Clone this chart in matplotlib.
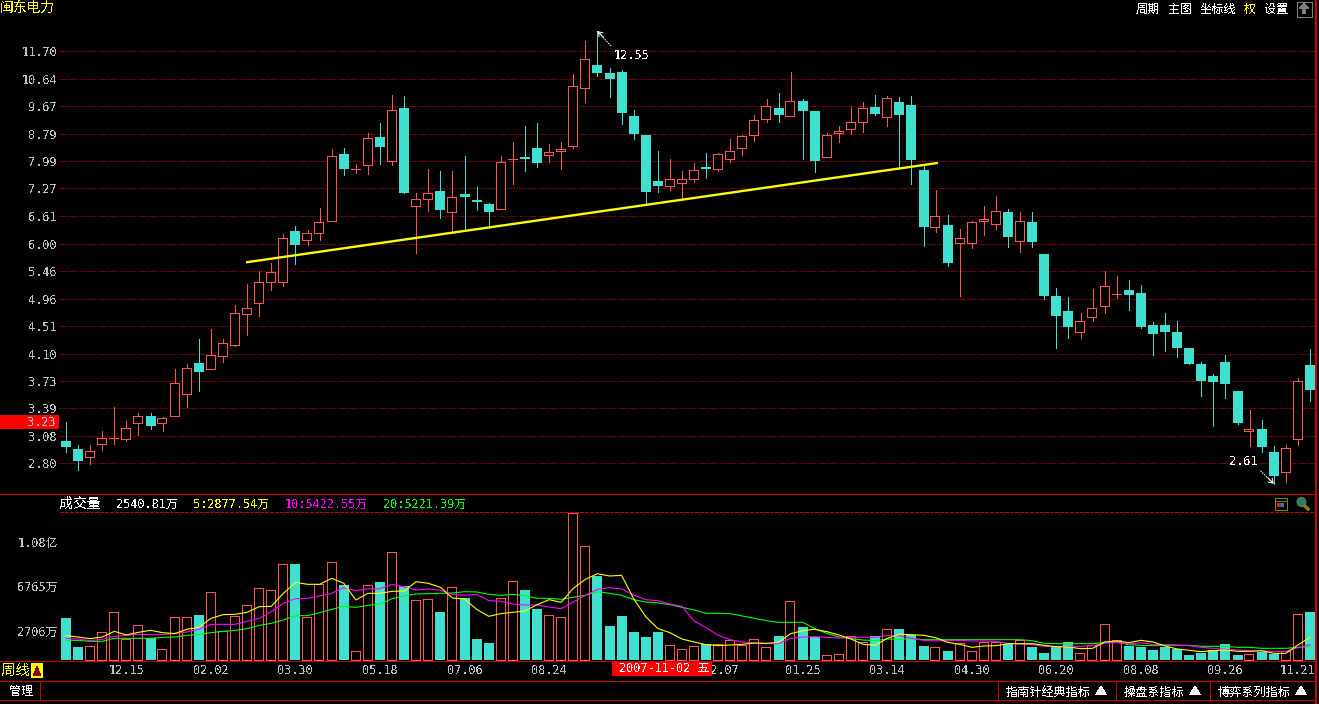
import matplotlib
matplotlib.use('Agg')
import matplotlib.pyplot as plt
from matplotlib.patches import Rectangle, Circle, Polygon
from matplotlib.ticker import NullLocator
from matplotlib.transforms import ScaledTranslation

plt.rcParams['font.family'] = ['DejaVu Sans Mono', 'Noto Sans CJK SC']
plt.rcParams['text.antialiased'] = False

W, H = 1319, 704

##candle colours: r = rising, c = falling
updown = ("ccrrrrrcrr" "rcrrrrrrrc" "rrrcrrcrcr" "rcrcccrrcc" "rrrrcccccc"
          "rrrcrrrrrc" "rccrrrrcrc" "ccrcrrrrcr" "ccccrrrrcc" "ccccccccrc" "crrc")

highs = [3.23,2.99,2.98,3.13,3.41,3.24,3.33,3.34,3.29,3.88,
         3.95,4.31,4.47,4.31,4.85,5.22,5.46,5.61,6.21,6.39,
         6.30,6.80,8.34,8.37,7.91,8.81,9.13,10.06,10.02,7.16,
         7.78,7.73,7.73,8.14,7.31,6.91,8.14,8.54,9.03,9.13,
         8.48,8.54,10.82,12.13,12.55,11.05,10.97,9.55,8.75,8.28,
         8.06,7.73,7.94,8.22,8.22,8.63,8.75,9.38,9.92,10.13,
         10.89,9.92,9.52,8.81,9.03,9.65,9.82,10.06,10.02,9.99,
         10.02,7.86,7.23,6.63,6.32,6.50,6.85,7.08,6.77,6.70,
         6.70,5.79,5.15,4.99,4.72,5.13,5.46,5.37,5.29,5.20,
         4.58,4.72,4.59,4.18,3.98,3.82,4.08,3.60,3.37,3.26,
         2.97,2.98,3.77,4.17]
body_tops = [3.03,2.94,2.92,3.06,3.06,3.17,3.30,3.30,3.28,3.70,
             3.90,3.97,4.08,4.25,4.72,4.81,5.25,5.44,6.12,6.27,
             6.22,6.47,8.13,8.20,7.77,8.66,8.70,9.54,9.61,7.01,
             7.15,7.21,7.05,7.13,6.99,6.89,7.96,8.05,8.11,8.37,
             8.24,8.34,10.36,11.38,11.16,10.86,10.89,9.35,8.75,7.46,
             7.51,7.51,7.75,7.83,8.19,8.27,8.72,9.21,9.67,9.61,
             9.84,9.85,9.52,8.74,8.87,9.15,9.60,9.65,9.94,9.82,
             9.71,7.75,6.60,6.41,6.12,6.47,6.53,6.72,6.70,6.49,
             6.47,5.79,5.01,4.75,4.59,4.81,5.18,5.04,5.11,5.06,
             4.53,4.53,4.42,4.18,3.96,3.79,3.98,3.60,3.16,3.16,
             2.91,2.95,3.73,3.94]
body_bots = [2.96,2.82,2.86,3.00,3.06,3.05,3.22,3.19,3.22,3.30,
             3.56,3.85,3.88,4.07,4.23,4.70,4.88,5.26,5.26,5.97,
             6.09,6.24,6.49,7.78,7.77,7.88,8.40,7.99,7.16,6.85,
             7.02,6.75,6.69,7.06,6.94,6.70,6.76,8.05,8.06,7.94,
             8.17,8.28,8.43,10.31,10.86,10.63,9.45,8.78,7.18,7.33,
             7.34,7.40,7.52,7.78,7.79,8.06,8.38,8.76,9.26,9.38,
             9.36,9.52,8.00,8.12,8.80,8.95,9.17,9.42,9.33,9.38,
             8.03,6.36,6.35,5.61,6.01,6.02,6.49,6.42,6.14,6.05,
             6.04,5.01,4.67,4.50,4.42,4.66,4.83,5.04,5.02,4.50,
             4.39,4.42,4.18,3.96,3.73,3.72,3.69,3.22,3.13,2.96,
             2.68,2.72,3.05,3.61]
lows = [2.91,2.74,2.79,2.93,3.00,3.03,3.09,3.16,3.13,3.30,
        3.41,3.60,3.88,3.98,4.21,4.37,4.67,5.11,5.18,5.59,
        5.97,6.07,6.49,7.62,7.67,7.65,7.91,7.89,7.16,5.81,
        6.73,6.56,6.27,6.32,6.75,6.34,6.76,7.38,7.73,7.83,
        7.97,7.78,8.37,9.82,10.74,9.99,9.09,8.63,6.89,7.18,
        7.23,6.99,7.44,7.54,7.73,7.97,8.17,8.57,9.16,9.16,
        9.36,8.06,7.70,8.12,8.54,8.78,8.85,9.38,9.04,7.78,
        7.38,5.96,6.25,5.56,5.00,5.92,6.19,6.32,5.94,5.83,
        5.94,4.96,4.18,4.33,4.33,4.59,4.72,4.97,4.77,4.48,
        4.08,4.14,4.05,3.96,3.54,3.19,3.51,3.21,2.97,2.91,
        2.61,2.63,2.98,3.48]

##volume, unit is 万
volume = [3839,1188,1280,2529,4357,1889,3169,1981,975,3900,
          3900,4113,6185,2620,3992,4997,6551,6368,8745,8775,
          3900,6917,8928,6856,792,6825,7130,9842,6764,5454,
          5546,4388,6642,5667,1920,1554,5637,7191,6399,4662,
          4083,3900,13407,10390,7678,3108,4022,2559,2102,2559,
          1341,975,1249,1463,1432,1798,1371,1889,1158,2194,
          5363,3017,2102,427,518,2163,1615,2194,2803,2834,
          2285,1280,1158,823,1524,792,1676,1676,1463,1828,
          1188,640,1188,1645,609,1371,3260,1798,1280,1188,
          914,1188,1006,457,640,914,1463,457,518,731,
          548,853,4174,4388]
ma5 = [2224,2102,1950,2102,2620,2285,2529,2712,2499,2407,
       2803,2986,3809,4144,4174,4357,4875,4906,6094,7100,
       6917,6917,7465,7008,5485,6094,6094,6277,6307,7160,
       7008,6642,5667,5576,4631,3992,4235,4357,4479,5058,
       5515,5271,6551,7374,7892,7678,7739,5606,3961,2878,
       2499,1920,1645,1402,1310,1371,1432,1554,1524,1615,
       2407,2681,2803,2590,2285,1920,1432,1341,1981,2346,
       2316,2255,2041,1615,1432,1158,1280,1310,1493,1493,
       1493,1341,1219,1188,1036,1066,1645,1737,1584,1798,
       1645,1280,1006,884,762,853,914,792,792,853,
       609,609,1371,2072]
ma10 = [1981,1920,1767,1889,2163,2255,2346,2316,2316,2438,
        2559,2803,3260,3260,3260,3535,3809,4418,5180,5606,
        5637,5850,6094,6612,6338,6490,6521,6917,6673,6399,
        6490,6368,6003,5911,6003,5424,5363,5119,5028,5028,
        4845,4692,5302,5911,6460,6612,6490,5942,5515,5423,
        5119,4906,3565,2956,2255,1859,1645,1554,1493,1493,
        1981,2102,2133,2072,2011,2072,2072,2072,2224,2224,
        1981,1798,1737,1767,1798,1737,1737,1706,1524,1463,
        1402,1249,1219,1249,1249,1310,1554,1584,1463,1584,
        1402,1402,1371,1310,1158,1066,975,914,853,823,
        792,792,1127,1402]
ma20 = [1798,1798,1706,1706,1981,1981,1981,1981,2072,2102,
        2255,2346,2499,2620,2712,2864,3169,3352,3656,4053,
        4053,4327,4631,4906,4814,4997,5119,5606,5850,6033,
        6064,6094,6124,6246,6216,6003,5911,6003,5881,5637,
        5637,5546,5728,5911,6246,6094,5911,5515,5302,5221,
        5058,4814,4571,4266,4266,4235,4022,3809,3595,3443,
        3443,3443,2864,2438,2102,1950,1828,1767,1920,1889,
        1950,1859,1859,1859,1859,1859,1859,1859,1859,1859,
        1767,1524,1493,1493,1493,1493,1615,1645,1402,1341,
        1310,1341,1341,1341,1249,1249,1249,1158,1158,1066,
        1066,1066,1158,1219]

price_ticks = [2.80,3.08,3.39,3.73,4.10,4.51,4.96,5.46,6.00,6.61,7.27,7.99,8.79,9.67,10.64,11.70]
price_labels = ['%.2f' % p for p in price_ticks]
vol_ticks = [2706,6765,10800]
vol_labels = ['2706万','6765万','1.08亿']
date_idx = [5,12,19,26,33,40,54,61,68,75,82,89,96,103]
date_labels = ['12.15','02.02','03.30','05.18','07.06','08.24','12.07','01.25',
               '03.14','04.30','06.20','08.08','09.26','11.21']
##yellow trend line (candle index, price)
trend_x = [15,72.1]
trend_y = [5.63,7.94]

RED = '#ff5555'
CYAN = '#40e0d0'
FRAME = '#d00000'
GRID = '#700000'
TXT = '#c0c0c0'
PX = 0.72  #one pixel in points at dpi 100

fig = plt.figure(figsize=(W/100, H/100), dpi=100, facecolor='black')

def px_axes(left, top, right, bottom):
    return fig.add_axes([left/W, 1-bottom/H, (right-left)/W, (bottom-top)/H])

##the axes start at pixel 59, candles start at pixel 66 with a 12.08 pixel step
LEFT, RIGHT, STEP, FIRST = 59, 1316, 12.078, 66
xlo, xhi = (LEFT-FIRST)/STEP, (RIGHT-FIRST)/STEP
n = len(highs)
xs = list(range(n))
up = [c == 'r' for c in updown]
hollow_shift = 0.7/STEP  #hollow boxes snap a pixel to the right otherwise

##price panel
ax = px_axes(LEFT, 20, RIGHT, 490)
ax.set_facecolor('none')
ax.set_yscale('log')
ax.set_xlim(xlo, xhi)
ax.set_ylim(2.5536, 13.045)
ax.yaxis.set_major_locator(plt.FixedLocator(price_ticks))
ax.yaxis.set_minor_locator(NullLocator())
ax.set_yticklabels(price_labels)
ax.set_xticks([])
ax.tick_params(axis='y', length=0, pad=1.5, labelsize=8.6, labelcolor=TXT)
ax.grid(True, axis='y', color=GRID, lw=PX, ls=(0, (6, 2, 1, 2)), antialiased=False)
ax.set_axisbelow(True)
for s in ax.spines.values():
    s.set_visible(False)

for i in xs:
    col = RED if up[i] else CYAN
    ax.vlines(i, lows[i], highs[i], color=col, lw=PX, antialiased=False, zorder=2)
    if up[i]:
        ax.bar(i-hollow_shift, body_tops[i]-body_bots[i], bottom=body_bots[i], width=9/STEP,
               facecolor='black', edgecolor=col, lw=PX, antialiased=False, zorder=3)
    else:
        ax.bar(i, body_tops[i]-body_bots[i], bottom=body_bots[i], width=10/STEP,
               facecolor=col, edgecolor='none', antialiased=False, zorder=3)
ax.plot(trend_x, trend_y, color='#ffff00', lw=1.7, zorder=5)

##annotation arrows: a dotted shaft and a short solid head
ax.annotate('12.55', xy=(44, 12.55), xytext=(16, -24), textcoords='offset pixels',
            color='white', fontsize=8.6, va='center', ha='left', zorder=6,
            arrowprops=dict(arrowstyle='-', color='white', lw=PX, ls=':',
                            shrinkA=0, shrinkB=0, relpos=(0, 1)))
ax.annotate('', xy=(44, 12.55), xytext=(6, -6), textcoords='offset pixels', zorder=6,
            arrowprops=dict(arrowstyle='->,head_length=0.3,head_width=0.2', color='white',
                            lw=PX, shrinkA=0, shrinkB=0))
ax.annotate('2.61', xy=(100, 2.61), xytext=(-16, 22), textcoords='offset pixels',
            color='white', fontsize=8.6, va='center', ha='right', zorder=6,
            arrowprops=dict(arrowstyle='-', color='white', lw=PX, ls=':',
                            shrinkA=0, shrinkB=0, relpos=(1, 0)))
ax.annotate('', xy=(100, 2.61), xytext=(-6, 6), textcoords='offset pixels', zorder=6,
            arrowprops=dict(arrowstyle='->,head_length=0.3,head_width=0.2', color='white',
                            lw=PX, shrinkA=0, shrinkB=0))

##volume panel
vx = px_axes(LEFT, 513, RIGHT, 660)
vx.set_facecolor('none')
vx.set_xlim(xlo, xhi)
vx.set_ylim(0, 13436)
vx.set_yticks(vol_ticks)
vx.set_yticklabels(vol_labels)
vx.set_xticks(date_idx)
vx.set_xticklabels(date_labels)
vx.tick_params(axis='y', length=0, pad=1, labelsize=8.6, labelcolor=TXT)
vx.tick_params(axis='x', length=0, pad=3.2, labelsize=8.6, labelcolor=TXT)
for s in vx.spines.values():
    s.set_visible(False)
ticklabs = vx.get_xticklabels()
##12.07 sits half under the date tag, 11.21 stops at the frame
ticklabs[6].set_transform(ticklabs[6].get_transform() + ScaledTranslation(3/100, 0, fig.dpi_scale_trans))
ticklabs[-1].set_ha('right')
ticklabs[-1].set_transform(ticklabs[-1].get_transform() + ScaledTranslation(5/100, 0, fig.dpi_scale_trans))
for i in xs:
    if up[i]:
        vx.bar(i-hollow_shift, volume[i], width=9/STEP, facecolor='black', edgecolor=RED, lw=PX,
               antialiased=False, zorder=2, clip_on=False)
    else:
        vx.bar(i, volume[i], width=10/STEP, facecolor=CYAN, edgecolor='none',
               antialiased=False, zorder=2, clip_on=False)
vx.plot(xs, ma20, color='#00ff00', lw=0.8, zorder=3)
vx.plot(xs, ma10, color='#ff00ff', lw=0.8, zorder=4)
vx.plot(xs, ma5, color='#ffff00', lw=0.8, zorder=5)

##frame, buttons and labels drawn in screen pixels
ui = fig.add_axes([0, 0, 1, 1], zorder=10)
ui.set_facecolor('none')
ui.set_xlim(0, W)
ui.set_ylim(H, 0)
ui.axis('off')

def hline(y, x0=0, x1=RIGHT, **kw):
    ui.plot([x0, x1], [y, y], color=FRAME, lw=PX, antialiased=False, **kw)

def vline(x, y0, y1):
    ui.plot([x, x], [y0, y1], color=FRAME, lw=PX, antialiased=False)

def label(x, y, s, color='white', size=8.6, ha='left'):
    ui.text(x, y, s, color=color, fontsize=size, ha=ha, va='center')

for y in [493.5, 660.5, 680.5, 699.5]:
    hline(y)
hline(511.5, 60, RIGHT, ls=(0, (4, 2)))
ui.plot([RIGHT-0.5]*2, [0, 704], color=FRAME, lw=1.5*PX, antialiased=False)
vline(39.5, 681, 700)
vline(997.5, 681, 700)
vline(1115.5, 681, 700)
vline(1209.5, 681, 700)

label(0, 8, '闽东电力', '#ffff00', 9.9)
label(1136, 9, '周期', size=8.7)
label(1168, 9, '主图', size=8.7)
label(1200, 9, '坐标线', size=8.7)
label(1244, 9, '权', '#ffff00', 8.7)
label(1264, 9, '设置', size=8.7)
ui.add_patch(Rectangle((1296.5, 1.5), 15, 15, fc='black', ec='#808080', lw=PX, antialiased=False))
ui.add_patch(Polygon([(1304, 3.5), (1309, 9), (1306, 9), (1306, 14), (1302, 14), (1302, 9), (1299, 9)],
                     fc='#808080', ec='none', antialiased=False))

ui.add_patch(Rectangle((0, 415), 59, 14, fc='#ff0000', ec='none', antialiased=False))
label(56, 422, '3.23', TXT, 8.6, ha='right')

label(59, 504, '成交量', size=10)
label(116, 504, '2540.81万', size=8.6)
label(193, 504, '5:2877.54万', '#ffff00', 8.6)
label(285, 504, '10:5422.55万', '#ff00ff', 8.6)
label(383, 504, '20:5221.39万', '#00ff00', 8.6)

ui.add_patch(Rectangle((1274.5, 497.5), 12, 12, fc='black', ec='#808000', lw=PX, antialiased=False))
ui.plot([1275, 1286], [500.5, 500.5], color='#808000', lw=PX, antialiased=False)
ui.add_patch(Rectangle((1277, 503), 3.5, 4, fc='#cc2222', ec='none'))
ui.add_patch(Rectangle((1280.5, 503), 3.5, 4, fc='#2080c0', ec='none'))
ui.add_patch(Circle((1301.5, 502), 4.5, fc='#208080', ec='#808000', lw=PX))
ui.plot([1305, 1308], [506, 509], color='#808000', lw=2*PX, antialiased=False)

ui.add_patch(Rectangle((612, 662), 100, 14, fc='#ff0000', ec='none', antialiased=False))
label(619, 669, '2007-11-02 五', size=8.6)

label(1, 671, '周线', '#ffff00', 10.4)
ui.add_patch(Rectangle((31, 663), 12, 15, fc='#ffff00', ec='none', antialiased=False))
ui.add_patch(Polygon([(37, 666), (41, 676), (33, 676)], fc='#8b0000', ec='none', antialiased=False))
label(9, 692, '管理', size=8.7)

label(1006, 692, '指南针经典指标', size=8.7)
label(1124, 692, '操盘系指标', size=8.7)
label(1218, 692, '博弈系列指标', size=8.7)
for tx in [1101, 1195, 1301]:
    ui.add_patch(Polygon([(tx, 686), (tx+5.5, 695), (tx-5.5, 695)], fc='white', ec='none', antialiased=False))

fig.savefig('out.png', dpi=100, facecolor='black')
